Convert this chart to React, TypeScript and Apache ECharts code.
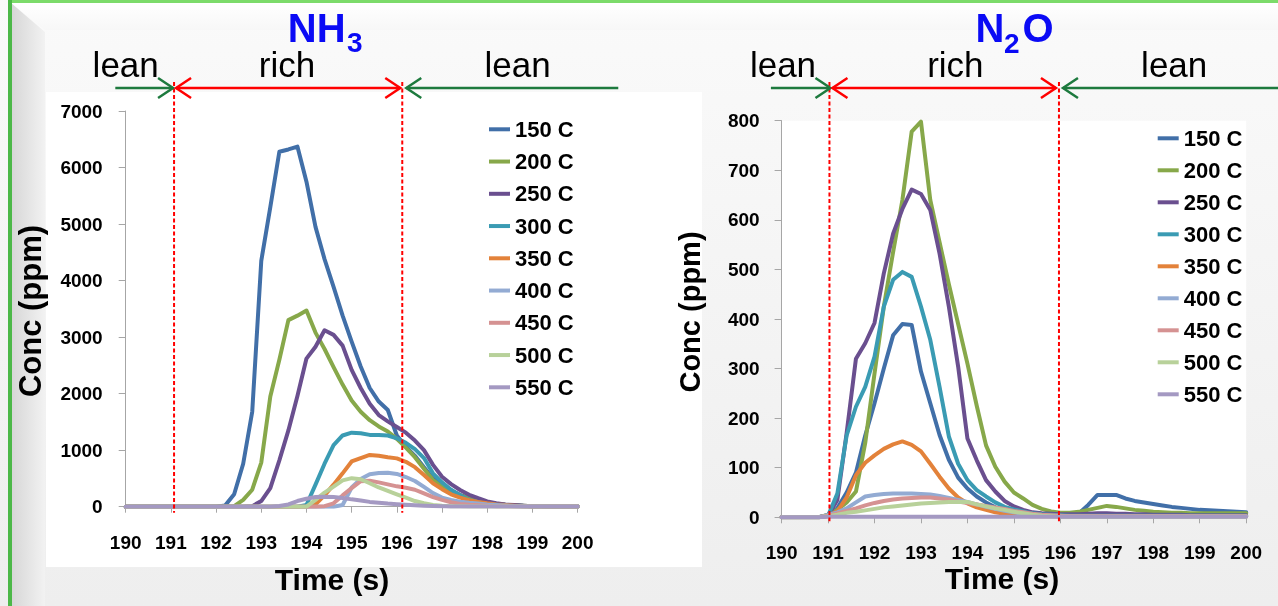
import React, { useEffect, useRef } from 'react';
import * as echarts from 'echarts';

const FONT = "'Liberation Sans', Arial, Helvetica, sans-serif";

const TIMES = [
  190.0, 190.2, 190.4, 190.6, 190.8, 191.0, 191.2, 191.4, 191.6, 191.8,
  192.0, 192.2, 192.4, 192.6, 192.8, 193.0, 193.2, 193.4, 193.6, 193.8,
  194.0, 194.2, 194.4, 194.6, 194.8, 195.0, 195.2, 195.4, 195.6, 195.8,
  196.0, 196.2, 196.4, 196.6, 196.8, 197.0, 197.2, 197.4, 197.6, 197.8,
  198.0, 198.2, 198.4, 198.6, 198.8, 199.0, 199.2, 199.4, 199.6, 199.8,
  200.0,
];

const SERIES_NAMES = ['150 C', '200 C', '250 C', '300 C', '350 C', '400 C', '450 C', '500 C', '550 C'];
const SERIES_COLORS = ['#416FA8', '#87A84A', '#6A4F8F', '#3A9BB3', '#E3823A', '#93ABD3', '#D59292', '#B8D19A', '#A499C2'];

const X_TICKS = [190, 191, 192, 193, 194, 195, 196, 197, 198, 199, 200];
const NH3_Y_MAX = 7000;
const NH3_Y_STEP = 1000;
const N2O_Y_MAX = 800;
const N2O_Y_STEP = 100;

// phase boundaries (s) and arrow extents
const NH3_BOUNDS = [191.07, 196.12];
const N2O_BOUNDS = [191.03, 195.97];
const NH3_ARROW_ENDS = [189.77, 200.9];
const N2O_ARROW_ENDS = [189.77, 200.98];
const NH3_PHASE_LABEL_T = [190.0, 193.57, 198.67];
const N2O_PHASE_LABEL_T = [190.03, 193.74, 198.45];
const PHASE_LABELS = ['lean', 'rich', 'lean'];

// ---------- NH3 (ppm) ----------
const NH3_150 = [
  0, 0, 0, 0, 0, 0, 0, 0, 0, 0,
  0, 20, 220, 760, 1680, 4350, 5300, 6280, 6320, 6370,
  5750, 4950, 4380, 3890, 3380, 2920, 2480, 2100, 1860, 1710,
  1260, 1060, 900, 700, 500, 390, 290, 210, 150, 100,
  70, 50, 35, 25, 15, 10, 8, 5, 5, 3,
  3,
];
const NH3_200 = [
  0, 0, 0, 0, 0, 0, 0, 0, 0, 0,
  0, 0, 10, 120, 300, 780, 1950, 2600, 3300, 3380,
  3470, 3080, 2790, 2470, 2160, 1880, 1680, 1530, 1420, 1330,
  1200, 1045, 875, 670, 472, 350, 265, 200, 145, 100,
  70, 50, 35, 25, 18, 10, 8, 5, 5, 3,
  3,
];
const NH3_250 = [
  0, 0, 0, 0, 0, 0, 0, 0, 0, 0,
  0, 0, 0, 0, 10, 100, 330, 820, 1350, 1960,
  2620, 2830, 3120, 3040, 2850, 2420, 2100, 1820, 1620, 1510,
  1410, 1310, 1170, 1000, 740, 530, 400, 295, 210, 150,
  95, 60, 40, 28, 18, 10, 8, 5, 5, 3,
  3,
];
const NH3_300 = [
  0, 0, 0, 0, 0, 0, 0, 0, 0, 0,
  0, 0, 0, 0, 0, 0, 0, 0, 0, 0,
  30, 390, 760, 1090, 1260, 1310, 1300, 1270, 1270, 1260,
  1210, 1130, 1020, 860, 590, 430, 300, 200, 120, 80,
  50, 35, 20, 12, 8, 5, 5, 3, 3, 2,
  2,
];
const NH3_350 = [
  0, 0, 0, 0, 0, 0, 0, 0, 0, 0,
  0, 0, 0, 0, 0, 0, 0, 0, 0, 0,
  0, 40, 200, 390, 590, 800, 860, 915, 900, 875,
  855, 795, 700, 560, 414, 310, 220, 160, 115, 85,
  60, 40, 28, 18, 10, 5, 5, 3, 3, 2,
  2,
];
const NH3_400 = [
  0, 0, 0, 0, 0, 0, 0, 0, 0, 0,
  0, 0, 0, 0, 0, 0, 0, 0, 0, 0,
  0, 0, 0, 0, 30, 340, 490, 575, 595, 602,
  580, 525, 455, 350, 240, 160, 120, 90, 70, 55,
  40, 30, 20, 12, 8, 5, 3, 3, 2, 2,
  2,
];
const NH3_450 = [
  0, 0, 0, 0, 0, 0, 0, 0, 0, 0,
  0, 0, 0, 0, 0, 0, 0, 0, 0, 0,
  0, 0, 10, 60, 200, 330, 450, 460, 430, 395,
  360, 335, 300, 235, 170, 120, 78, 50, 35, 25,
  15, 10, 8, 5, 5, 3, 3, 2, 2, 2,
  2,
];
const NH3_500 = [
  0, 0, 0, 0, 0, 0, 0, 0, 0, 0,
  0, 0, 0, 0, 0, 0, 0, 0, 0, 0,
  0, 120, 250, 354, 465, 505, 485, 415, 340, 280,
  220, 160, 100, 60, 30, 15, 10, 8, 5, 5,
  3, 3, 2, 2, 2, 2, 2, 2, 2, 2,
  2,
];
const NH3_550 = [
  0, 0, 0, 0, 0, 0, 0, 0, 0, 0,
  0, 0, 0, 0, 0, 0, 0, 12, 40, 100,
  140, 170, 175, 170, 155, 130, 110, 85, 70, 55,
  45, 35, 25, 18, 12, 8, 5, 5, 3, 3,
  2, 2, 2, 2, 2, 2, 2, 2, 2, 2,
  2,
];

// ---------- N2O (ppm) ----------
const N2O_150 = [
  0, 0, 0, 0, 0, 5, 18, 50, 90, 165,
  230, 300, 367, 390, 388, 294, 230, 166, 116, 80,
  58, 42, 30, 20, 13, 9, 6, 5, 4, 4,
  4, 4, 8, 25, 45, 45, 45, 38, 33, 30,
  27, 24, 21, 19, 17, 15, 14, 13, 12, 11,
  10,
];
const N2O_200 = [
  0, 0, 0, 0, 0, 5, 15, 30, 52, 150,
  290, 425, 535, 640, 778, 798, 640, 555, 470, 390,
  310, 225, 145, 102, 72, 50, 38, 25, 17, 12,
  9, 9, 11, 15, 19, 23, 21, 18, 15, 13,
  11, 10, 9, 9, 8, 8, 8, 8, 8, 8,
  8,
];
const N2O_250 = [
  0, 0, 0, 0, 0, 3, 35, 170, 320, 351,
  392, 492, 572, 622, 661, 652, 620, 532, 425, 304,
  159, 115, 75, 52, 33, 22, 15, 10, 8, 7,
  6, 6, 6, 7, 8, 8, 7, 7, 6, 6,
  5, 5, 5, 5, 4, 4, 4, 4, 4, 4,
  4,
];
const N2O_300 = [
  0, 0, 0, 0, 0, 3, 48, 165, 223, 263,
  324, 425, 479, 495, 485, 425, 358, 263, 163, 108,
  75, 55, 42, 30, 21, 16, 12, 8, 6, 5,
  4, 3, 3, 3, 3, 3, 3, 3, 3, 3,
  3, 3, 3, 3, 3, 3, 3, 3, 3, 3,
  3,
];
const N2O_350 = [
  0, 0, 0, 0, 0, 3, 12, 40, 85, 110,
  125, 138, 147, 153, 146, 133, 108, 82, 58, 40,
  28, 20, 15, 10, 7, 5, 3, 2, 2, 2,
  2, 2, 2, 2, 2, 2, 2, 2, 2, 2,
  2, 2, 2, 2, 2, 2, 2, 2, 2, 2,
  2,
];
const N2O_400 = [
  0, 0, 0, 0, 0, 5, 10, 18, 30, 42,
  45, 47, 48, 48, 48, 47, 46, 43, 39, 35,
  31, 26, 21, 17, 13, 10, 7, 5, 4, 3,
  2, 2, 2, 2, 2, 2, 2, 2, 2, 2,
  2, 2, 2, 2, 2, 2, 2, 2, 2, 2,
  2,
];
const N2O_450 = [
  0, 0, 0, 0, 0, 3, 8, 13, 18, 24,
  29, 33, 36, 38, 39, 40, 40, 38, 36, 32,
  29, 26, 23, 20, 17, 13, 10, 7, 5, 4,
  3, 2, 2, 2, 2, 2, 2, 2, 2, 2,
  2, 2, 2, 2, 2, 2, 2, 2, 2, 2,
  2,
];
const N2O_500 = [
  0, 0, 0, 0, 0, 2, 5, 9, 11, 14,
  17, 20, 22, 24, 26, 28, 29, 30, 31, 31,
  31, 26, 22, 18, 15, 11, 8, 5, 3, 2,
  1, 1, 1, 1, 1, 1, 1, 1, 1, 1,
  1, 1, 1, 1, 1, 1, 1, 1, 1, 1,
  1,
];
const N2O_550 = [
  0, 0, 0, 0, 0, 1, 1, 1, 1, 1,
  1, 1, 1, 1, 1, 1, 1, 1, 1, 1,
  1, 1, 1, 1, 1, 1, 1, 1, 1, 1,
  1, 1, 1, 1, 1, 1, 1, 1, 1, 1,
  1, 1, 1, 1, 1, 1, 1, 1, 1, 1,
  1,
];

const NH3_SERIES = [NH3_150, NH3_200, NH3_250, NH3_300, NH3_350, NH3_400, NH3_450, NH3_500, NH3_550];
const N2O_SERIES = [N2O_150, N2O_200, N2O_250, N2O_300, N2O_350, N2O_400, N2O_450, N2O_500, N2O_550];

const AXIS_COLOR = '#A6A6A6';
const ARROW_GREEN = '#1D7A3E';
const RED = '#FF0000';

function makeXAxis(gridIndex: number) {
  return {
    gridIndex,
    type: 'value',
    min: X_TICKS[0],
    max: X_TICKS[X_TICKS.length - 1],
    interval: 1,
    axisLine: { show: true, onZero: false, lineStyle: { color: AXIS_COLOR, width: 1 } },
    axisTick: { show: true, length: 6, lineStyle: { color: AXIS_COLOR } },
    axisLabel: {
      show: true,
      showMinLabel: true,
      showMaxLabel: true,
      fontSize: 19,
      fontWeight: 'bold',
      color: '#000',
      fontFamily: FONT,
      margin: 26,
      formatter: (v: number) => String(v),
    },
    splitLine: { show: false },
  };
}

function makeYAxis(gridIndex: number, max: number, step: number, margin: number) {
  return {
    gridIndex,
    type: 'value',
    min: 0,
    max,
    interval: step,
    axisLine: { show: true, lineStyle: { color: AXIS_COLOR, width: 1 } },
    axisTick: { show: true, length: 7, lineStyle: { color: AXIS_COLOR } },
    axisLabel: {
      fontSize: 19,
      fontWeight: 'bold',
      color: '#000',
      fontFamily: FONT,
      margin,
      formatter: (v: number) => String(v),
    },
    splitLine: { show: false },
  };
}

function makeSeries(gridIndex: number, arrays: number[][]) {
  return arrays.map((vals, k) => ({
    type: 'line',
    name: SERIES_NAMES[k],
    xAxisIndex: gridIndex,
    yAxisIndex: gridIndex,
    data: TIMES.map((t, i) => [t, vals[i]]),
    showSymbol: false,
    symbol: 'none',
    color: SERIES_COLORS[k],
    itemStyle: { color: SERIES_COLORS[k] },
    lineStyle: { color: SERIES_COLORS[k], width: 4, join: 'round', cap: 'round' },
    emphasis: { disabled: true },
  }));
}

function makeLegend(left: number, top: number, gap: number) {
  return {
    data: SERIES_NAMES,
    orient: 'vertical',
    left,
    top,
    padding: 0,
    itemWidth: 21,
    itemHeight: 4,
    itemGap: gap,
    icon: 'rect',
    selectedMode: false,
    textStyle: { fontSize: 22, fontWeight: 'bold', color: '#000', fontFamily: FONT, lineHeight: 22 },
  };
}

export default function App() {
  const ref = useRef<HTMLDivElement>(null);

  useEffect(() => {
    if (!ref.current) return;
    const chart = echarts.init(ref.current, null, { renderer: 'svg' });

    const bgGraphics: any[] = [
      {
        type: 'rect', z: -10, silent: true,
        shape: { x: 0, y: 0, width: 1278, height: 606 },
        style: {
          fill: new echarts.graphic.LinearGradient(0, 0, 0, 1, [
            { offset: 0, color: '#FAFAFA' },
            { offset: 1, color: '#EEEEEE' },
          ]),
        },
      },
      {
        type: 'polygon', z: -9, silent: true,
        shape: { points: [[11, 3], [1278, 3], [1278, 30], [45, 30]] },
        style: {
          fill: new echarts.graphic.LinearGradient(0, 0, 0, 1, [
            { offset: 0, color: '#FFFFFF' },
            { offset: 1, color: '#F7F7F7' },
          ]),
        },
      },
      {
        type: 'polygon', z: -9, silent: true,
        shape: { points: [[11, 3], [45, 32], [45, 606], [11, 606]] },
        style: {
          fill: new echarts.graphic.LinearGradient(0, 0, 1, 0, [
            { offset: 0, color: '#D6D6D6' },
            { offset: 1, color: '#F2F2F2' },
          ]),
        },
      },
      {
        type: 'rect', z: -8, silent: true,
        shape: { x: 46, y: 92, width: 656, height: 475 },
        style: { fill: '#FFFFFF' },
      },
      {
        type: 'rect', z: -7, silent: true,
        shape: { x: 8, y: 0, width: 1270, height: 3 },
        style: { fill: '#7CDB6A' },
      },
      {
        type: 'rect', z: -7, silent: true,
        shape: { x: 8, y: 0, width: 4, height: 606 },
        style: { fill: '#4CB848' },
      },
    ];

    const option: any = {
      animation: false,
      backgroundColor: 'transparent',
      grid: [
        { left: 125.7, top: 111, width: 451.9, height: 395.7, show: false, containLabel: false },
        {
          left: 781.6, top: 120.7, width: 464.6, height: 396.6,
          show: true, backgroundColor: '#FFFFFF', borderWidth: 0, borderColor: 'transparent',
          containLabel: false,
        },
      ],
      xAxis: [makeXAxis(0), makeXAxis(1)],
      yAxis: [makeYAxis(0, NH3_Y_MAX, NH3_Y_STEP, 23), makeYAxis(1, N2O_Y_MAX, N2O_Y_STEP, 22)],
      legend: [makeLegend(489, 118.3, 10.25), makeLegend(1157.7, 127.3, 10)],
      series: [...makeSeries(0, NH3_SERIES), ...makeSeries(1, N2O_SERIES)],
      graphic: bgGraphics,
    };
    chart.setOption(option);

    const px = (gi: number, t: number) => chart.convertToPixel({ xAxisIndex: gi } as any, t) as unknown as number;
    const py = (gi: number, v: number) => chart.convertToPixel({ yAxisIndex: gi } as any, v) as unknown as number;

    const ARROW_Y = 88;
    const LINE_TOP = 82;
    const ann: any[] = [];

    const line = (x1: number, y1: number, x2: number, y2: number, color: string, w: number, dash?: number[]) => ({
      type: 'line', z: 20, silent: true,
      shape: { x1, y1, x2, y2 },
      style: { stroke: color, lineWidth: w, lineDash: dash || null },
    });
    const head = (tipX: number, y: number, dir: number, color: string) => ({
      type: 'polyline', z: 20, silent: true,
      shape: { points: [[tipX - dir * 15, y - 10], [tipX, y], [tipX - dir * 15, y + 10]] },
      style: { stroke: color, lineWidth: 2.5, fill: null },
    });
    const txt = (x: number, y: number, text: string, size: number, color: string, weight: string, align = 'center', rotation = 0) => ({
      type: 'text', z: 20, silent: true, x, y, rotation,
      style: { text, fill: color, fontSize: size, fontWeight: weight, fontFamily: FONT, align, verticalAlign: 'middle' },
    });

    const panels = [
      { gi: 0, bounds: NH3_BOUNDS, ends: NH3_ARROW_ENDS, labels: NH3_PHASE_LABEL_T, offs: [-1, 2, -2, 4], below: 6 },
      { gi: 1, bounds: N2O_BOUNDS, ends: N2O_ARROW_ENDS, labels: N2O_PHASE_LABEL_T, offs: [1, 3, -3, 4], below: 4 },
    ];
    panels.forEach((p) => {
      const L1 = px(p.gi, p.bounds[0]);
      const L2 = px(p.gi, p.bounds[1]);
      const y0 = py(p.gi, 0);
      ann.push(line(L1, LINE_TOP, L1, y0 + p.below, RED, 2, [4, 2.5]));
      ann.push(line(L2, LINE_TOP, L2, y0 + p.below, RED, 2, [4, 2.5]));
      const tailL = px(p.gi, p.ends[0]);
      const tip1 = L1 + p.offs[0];
      ann.push(line(tailL, ARROW_Y, tip1, ARROW_Y, ARROW_GREEN, 2.5));
      ann.push(head(tip1, ARROW_Y, 1, ARROW_GREEN));
      const r1 = L1 + p.offs[1];
      const r2 = L2 + p.offs[2];
      ann.push(line(r1, ARROW_Y, r2, ARROW_Y, RED, 2.5));
      ann.push(head(r1, ARROW_Y, -1, RED));
      ann.push(head(r2, ARROW_Y, 1, RED));
      const tip2 = L2 + p.offs[3];
      const tailR = px(p.gi, p.ends[1]);
      ann.push(line(tip2, ARROW_Y, tailR, ARROW_Y, ARROW_GREEN, 2.5));
      ann.push(head(tip2, ARROW_Y, -1, ARROW_GREEN));
      p.labels.forEach((t, i) => {
        ann.push(txt(px(p.gi, t), 64, PHASE_LABELS[i], 35, '#000', 'normal'));
      });
    });

    // titles
    ann.push(txt(287.8, 28, 'NH', 40, '#0A0AF5', 'bold', 'left'));
    ann.push(txt(347, 42.5, '3', 28, '#0A0AF5', 'bold', 'left'));
    ann.push(txt(975.6, 28, 'N', 40, '#0A0AF5', 'bold', 'left'));
    ann.push(txt(1004, 43.5, '2', 28, '#0A0AF5', 'bold', 'left'));
    ann.push(txt(1022.4, 28, 'O', 40, '#0A0AF5', 'bold', 'left'));

    // axis titles
    ann.push(txt(332, 579, 'Time (s)', 30, '#000', 'bold'));
    ann.push(txt(1002, 578, 'Time (s)', 30, '#000', 'bold'));
    ann.push(txt(30, 311, 'Conc (ppm)', 31, '#000', 'bold', 'center', Math.PI / 2));
    ann.push(txt(690, 312, 'Conc (ppm)', 29, '#000', 'bold', 'center', Math.PI / 2));

    chart.setOption({ graphic: [...bgGraphics, ...ann] });

    return () => {
      chart.dispose();
    };
  }, []);

  return (
    <div
      ref={ref}
      style={{ position: 'fixed', left: 0, top: 0, width: 1278, height: 606 }}
    />
  );
}
